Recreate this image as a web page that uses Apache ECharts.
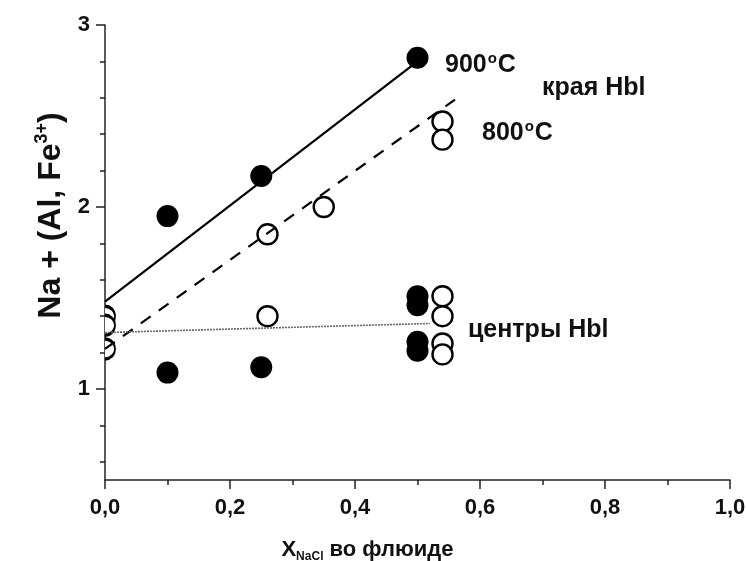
<!DOCTYPE html>
<html>
<head>
<meta charset="utf-8">
<script src="https://cdn.jsdelivr.net/npm/echarts@6/dist/echarts.min.js"></script>
<style>
  html, body { margin: 0; padding: 0; background: #fff; }
  #chart { width: 746px; height: 561px; }
</style>
</head>
<body>
<div id="chart"></div>
<script>
// filled circles: 900°C
const hot = [[0.5, 2.82], [0.25, 2.17], [0.1, 1.95], [0.5, 1.51], [0.5, 1.46],
  [0.5, 1.26], [0.5, 1.21], [0.1, 1.09], [0.25, 1.12]];
// open circles: 800°C
const cold = [[0.54, 2.47], [0.54, 2.37], [0.35, 2.0], [0.26, 1.85], [0.26, 1.40],
  [0.54, 1.51], [0.54, 1.40], [0.54, 1.25], [0.54, 1.19]];
// open circles on the y axis (half hidden)
const coldZero = [[0, 1.40], [0, 1.35], [0, 1.22]];
// trend lines
const line900 = [[0, 1.48], [0.5, 2.80]];
const line800 = [[0, 1.22], [0.56, 2.59]];
const lineCenter = [[0, 1.31], [0.52, 1.36]];
// ticks
const yMajor = [1, 2, 3];
const yMinor = [0.6, 0.8, 1.2, 1.4, 1.6, 1.8, 2.2, 2.4, 2.6, 2.8];

const chart = echarts.init(document.getElementById('chart'));
const font = 'Liberation Sans, Arial, sans-serif';
const ink = '#111';

// bold text with a small raised "o" for degrees
function degText(t) {
  return {
    text: '{t|' + t + '}{sup|o}{t|C}',
    verticalAlign: 'middle',
    rich: {
      t: { fontFamily: font, fontWeight: 'bold', fontSize: 25, fill: ink },
      sup: { fontFamily: font, fontWeight: 'bold', fontSize: 15, fill: ink, padding: [0, 1, 12, 1] }
    }
  };
}

chart.setOption({
  animation: false,
  grid: { left: 105, right: 16, top: 25, bottom: 81, outerBoundsMode: 'none' },
  xAxis: {
    type: 'value', min: 0, max: 1, interval: 0.2,
    name: '{x|X}{sub|NaCl}{t| во флюиде}',
    nameLocation: 'middle', nameGap: 56,
    nameTextStyle: {
      padding: [0, 100, 0, 0],
      rich: {
        x: { fontFamily: font, fontWeight: 'bold', fontSize: 22, color: ink },
        sub: { fontFamily: font, fontWeight: 'bold', fontSize: 12, color: ink, padding: [15, 0, 0, 0] },
        t: { fontFamily: font, fontWeight: 'bold', fontSize: 22, color: ink }
      }
    },
    axisLine: { lineStyle: { color: '#222', width: 1.5 } },
    axisTick: { length: 9, lineStyle: { color: '#222', width: 1.5 } },
    minorTick: { show: true, splitNumber: 2, length: 5, lineStyle: { color: '#222', width: 1.5 } },
    axisLabel: {
      fontFamily: font, fontWeight: 'bold', fontSize: 22, color: ink, margin: 17,
      formatter: v => v.toFixed(1).replace('.', ',')
    },
    splitLine: { show: false }
  },
  yAxis: [{
    type: 'value', min: 0.5, max: 3,
    name: '{t|Na + (Al, Fe}{sup|3+}{t|)}',
    nameLocation: 'middle', nameGap: 36, nameRotate: 90,
    nameTextStyle: {
      padding: [0, 0, 0, 74],
      rich: {
        t: { fontFamily: font, fontWeight: 'bold', fontSize: 32, color: ink },
        sup: { fontFamily: font, fontWeight: 'bold', fontSize: 18, color: ink, padding: [0, 0, 17, 0] }
      }
    },
    axisLine: { show: true, lineStyle: { color: '#222', width: 1.5 } },
    axisTick: { show: true, length: 9, customValues: yMajor, lineStyle: { color: '#222', width: 1.5 } },
    axisLabel: {
      fontFamily: font, fontWeight: 'bold', fontSize: 22, color: ink, margin: 15,
      customValues: yMajor
    },
    splitLine: { show: false }
  }, {
    type: 'value', min: 0.5, max: 3, position: 'left',
    axisLine: { show: false },
    axisTick: { show: true, length: 5, customValues: yMinor, lineStyle: { color: '#222', width: 1.5 } },
    axisLabel: { show: false },
    splitLine: { show: false }
  }],
  graphic: [
    { type: 'text', x: 445, y: 65, style: degText('900') },
    { type: 'text', x: 542, y: 88, style: { text: 'края Hbl', verticalAlign: 'middle', fontFamily: font, fontWeight: 'bold', fontSize: 25, fill: ink } },
    { type: 'text', x: 482, y: 133, style: degText('800') },
    { type: 'text', x: 468, y: 330, style: { text: 'центры Hbl', verticalAlign: 'middle', fontFamily: font, fontWeight: 'bold', fontSize: 25, fill: ink } }
  ],
  series: [
    {
      type: 'scatter', data: cold, symbol: 'circle', symbolSize: 20, clip: false, z: 2,
      itemStyle: { color: '#fff', borderColor: '#000', borderWidth: 2.4, opacity: 1 }
    },
    {
      type: 'scatter', data: coldZero, clip: false, z: 2,
      symbol: 'path://M0,0 A10,10 0 0 1 0,20', symbolSize: [10, 20], symbolOffset: [5, 0],
      itemStyle: { color: '#fff', borderColor: '#000', borderWidth: 2.4, opacity: 1 }
    },
    {
      type: 'line', data: line900, symbol: 'none', z: 3,
      lineStyle: { color: '#000', width: 2.2 }
    },
    {
      type: 'line', data: line800, symbol: 'none', z: 3,
      lineStyle: { color: '#000', width: 2.2, type: [12, 10] }
    },
    {
      type: 'line', data: lineCenter, symbol: 'none', z: 3,
      lineStyle: { color: '#666', width: 1.6, type: [2, 1] }
    },
    {
      type: 'scatter', data: hot, symbol: 'circle', symbolSize: 22, clip: false, z: 4,
      itemStyle: { color: '#000', opacity: 1 }
    }
  ]
});
</script>
</body>
</html>
